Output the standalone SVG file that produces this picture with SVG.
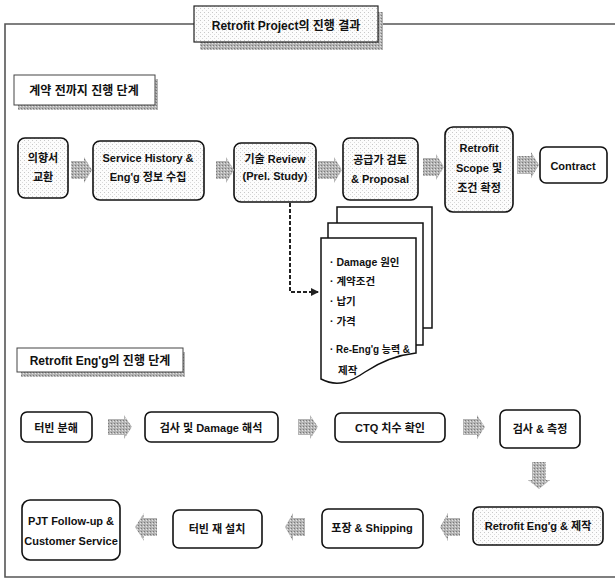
<svg xmlns="http://www.w3.org/2000/svg" width="615" height="583" viewBox="0 0 615 583">
<defs>
<pattern id="stip" width="4" height="4" patternUnits="userSpaceOnUse">
<rect width="4" height="4" fill="#fcfcfc"/>
<rect x="0" y="0" width="1" height="1" fill="#c8c8c8"/>
<rect x="2" y="2" width="1" height="1" fill="#dadada"/>
</pattern>
<pattern id="shade" width="3" height="3" patternUnits="userSpaceOnUse">
<rect width="3" height="3" fill="#b4b4b4"/>
<rect x="0" y="0" width="1" height="1" fill="#7a7a7a"/>
<rect x="2" y="1" width="1" height="1" fill="#e4e4e4"/>
</pattern>
<marker id="ah" markerWidth="8" markerHeight="8" refX="7" refY="4" orient="auto" markerUnits="userSpaceOnUse">
<path d="M0,0 L8,4 L0,8 Z" fill="#222"/>
</marker>
</defs>
<style>
.t{font-family:"Liberation Sans","Noto Sans CJK KR",sans-serif;font-size:11px;font-weight:bold;text-anchor:middle;fill:#111}
.h{font-family:"Liberation Sans","Noto Sans CJK KR",sans-serif;font-size:12px;font-weight:bold;text-anchor:middle;fill:#111}
.l{font-family:"Liberation Sans","Noto Sans CJK KR",sans-serif;font-size:10.5px;font-weight:bold;fill:#111}
.box{fill:#fff;stroke:#111;stroke-width:1.6}
.sbox{fill:url(#stip);stroke:#111;stroke-width:1.6}
.sh{fill:url(#shade)}
.hb{fill:#fff;stroke:#444;stroke-width:1}
.ar{fill:url(#shade)}
.doc{fill:#fff;stroke:#111;stroke-width:1.5}
.fr{fill:none;stroke:#555;stroke-width:1.6}
</style>
<rect width="615" height="583" fill="#fff"/>
<g id="frame">
<path class="fr" d="M194,24 L5,24 L5,577 L615,577"/>
<path class="fr" d="M378,24 L615,24"/>
</g>
<g id="title">
<rect class="sh" x="200" y="12" width="183" height="38"/>
<rect x="194" y="6" width="184" height="36" fill="url(#stip)" stroke="#222" stroke-width="1.2"/>
<text class="h" x="286" y="30">Retrofit Project의 진행 결과</text>
</g>
<g id="section1">
<rect class="sh" x="18" y="79" width="140" height="31"/>
<rect class="hb" x="14" y="75" width="141" height="30"/>
<text class="h" x="84" y="95">계약 전까지 진행 단계</text>
</g>
<g id="section2">
<rect class="sh" x="21" y="352" width="164" height="25"/>
<rect class="hb" x="17" y="348" width="166" height="24"/>
<text class="h" x="100" y="365">Retrofit Eng'g의 진행 단계</text>
</g>
<g id="n1"><rect class="sbox" x="18" y="138" width="50" height="60" rx="7"/>
<text class="t" x="43" y="162">의향서</text><text class="t" x="43" y="181">교환</text></g>
<g id="n2"><rect class="sbox" x="93" y="141" width="111" height="59" rx="7"/>
<text class="t" x="148" y="162">Service History &amp;</text><text class="t" x="148" y="181">Eng'g 정보 수집</text></g>
<g id="n3"><rect class="sbox" x="234" y="143" width="82" height="59" rx="7"/>
<text class="t" x="275" y="163">기술 Review</text><text class="t" x="275" y="180">(Prel. Study)</text></g>
<g id="n4"><rect class="sbox" x="343" y="138" width="75" height="62" rx="7"/>
<text class="t" x="380" y="164">공급가 검토</text><text class="t" x="380" y="183">&amp; Proposal</text></g>
<g id="n5"><rect class="sbox" x="445" y="127" width="68" height="85" rx="8"/>
<text class="t" x="479" y="152">Retrofit</text><text class="t" x="479" y="172">Scope 및</text><text class="t" x="479" y="192">조건 확정</text></g>
<g id="n6"><rect class="box" x="540" y="147" width="67" height="36" rx="6"/>
<text class="t" x="573" y="170">Contract</text></g>
<g id="doc">
<rect class="doc" x="337" y="207" width="95" height="121"/>
<rect class="doc" x="328" y="223" width="95" height="122"/>
<path class="doc" d="M321,238 L416,238 L416,353 C398,355 380,362 365,372 C352,381 338,388 321,379 Z"/>
<text class="l" x="330" y="266">· Damage 원인</text>
<text class="l" x="330" y="285">· 계약조건</text>
<text class="l" x="330" y="305">· 납기</text>
<text class="l" x="330" y="325">· 가격</text>
<text class="l" x="330" y="353" textLength="80" lengthAdjust="spacingAndGlyphs">· Re-Eng'g 능력 &amp;</text>
<text class="l" x="338" y="374">제작</text>
</g>
<g id="m1"><rect class="box" x="21" y="412" width="71" height="30" rx="6"/>
<text class="t" x="56" y="432">터빈 분해</text></g>
<g id="m2"><rect class="box" x="145" y="412" width="133" height="30" rx="6"/>
<text class="t" x="211" y="432">검사 및 Damage 해석</text></g>
<g id="m3"><rect class="box" x="335" y="413" width="110" height="29" rx="6"/>
<text class="t" x="390" y="432">CTQ 치수 확인</text></g>
<g id="m4"><rect class="box" x="500" y="410" width="80" height="38" rx="6"/>
<text class="t" x="540" y="433">검사 &amp; 측정</text></g>
<g id="m5"><rect class="sbox" x="473" y="507" width="130" height="38" rx="6"/>
<text class="t" x="538" y="530">Retrofit Eng'g &amp; 제작</text></g>
<g id="m6"><rect class="box" x="322" y="509" width="101" height="39" rx="6"/>
<text class="t" x="372" y="532">포장 &amp; Shipping</text></g>
<g id="m7"><rect class="box" x="173" y="510" width="89" height="38" rx="6"/>
<text class="t" x="217" y="533">터빈 재 설치</text></g>
<g id="m8"><rect class="box" x="22" y="500" width="98" height="60" rx="8"/>
<text class="t" x="71" y="525">PJT Follow-up &amp;</text><text class="t" x="71" y="545">Customer Service</text></g>
<g id="connectors">
<path class="ar" d="M71,161 L84,161 L84,157 L92,170 L84,183 L84,179 L71,179 Z"/>
<path class="ar" d="M216,161 L226,161 L226,157 L234,170 L226,183 L226,179 L216,179 Z"/>
<path class="ar" d="M318,161 L334,161 L334,157 L342,170 L334,183 L334,179 L318,179 Z"/>
<path class="ar" d="M423,158 L436,158 L436,154 L444,167 L436,180 L436,176 L423,176 Z"/>
<path class="ar" d="M517,156 L531,156 L531,152 L539,165 L531,178 L531,174 L517,174 Z"/>
<path class="ar" d="M108,419 L124,419 L124,415 L132,427 L124,439 L124,435 L108,435 Z"/>
<path class="ar" d="M298,419 L310,419 L310,415 L318,427 L310,439 L310,435 L298,435 Z"/>
<path class="ar" d="M463,419 L477,419 L477,415 L485,427 L477,439 L477,435 L463,435 Z"/>
<path class="ar" d="M532,462 L546,462 L546,480 L550,480 L539,489 L528,480 L532,480 Z"/>
<path class="ar" d="M460,518 L448,518 L448,513 L440,527 L448,541 L448,536 L460,536 Z"/>
<path class="ar" d="M305,518 L293,518 L293,513 L285,527 L293,541 L293,536 L305,536 Z"/>
<path class="ar" d="M157,518 L144,518 L144,513 L135,527 L144,541 L144,536 L157,536 Z"/>
<path d="M290,203 L290,292 L318,292" fill="none" stroke="#222" stroke-width="2" stroke-dasharray="4 2" marker-end="url(#ah)"/>
</g>
</svg>
